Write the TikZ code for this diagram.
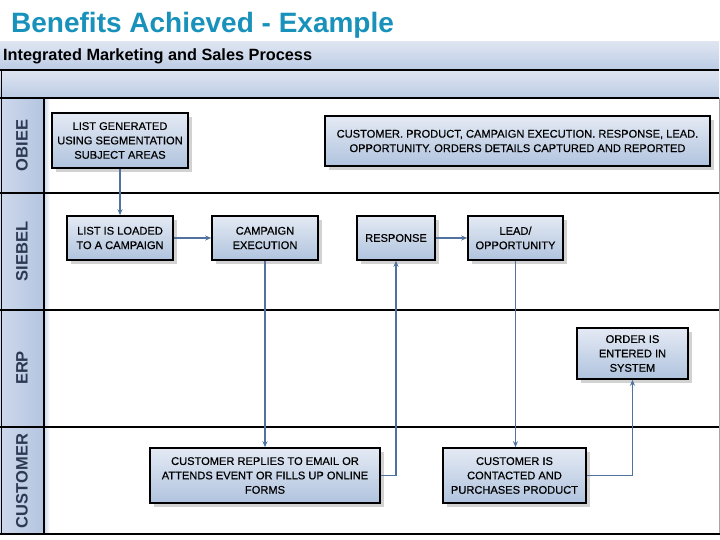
\documentclass[tikz,border=0pt]{standalone}
\usepackage{fontspec}
\setmainfont{Liberation Sans}
\newfontfamily\boxfont[FakeBold=0.5]{Liberation Sans}
\usetikzlibrary{shadows,arrows.meta,positioning}
\definecolor{titleblue}{RGB}{24,146,186}
\definecolor{boxtop}{RGB}{228,234,244}
\definecolor{boxbot}{RGB}{176,195,222}
\definecolor{bandtop}{RGB}{222,229,241}
\definecolor{bandbot}{RGB}{188,204,229}
\definecolor{colleft}{RGB}{205,216,236}
\definecolor{colright}{RGB}{180,197,224}
\definecolor{lanetext}{RGB}{45,56,82}
\definecolor{arrowc}{RGB}{79,114,158}
\tikzset{
  procbox/.style={draw=black, line width=1.6pt, top color=boxtop, bottom color=boxbot,
    align=center, inner sep=1pt,
    font=\boxfont\fontsize{11.1}{14.4}\selectfont,
    drop shadow={shadow xshift=4pt, shadow yshift=-4pt, fill=gray, opacity=0.35}},
  flow/.style={draw=arrowc, line width=1.1pt, -{Stealth[length=6pt,width=5pt]}},
  lanelabel/.style={rotate=90, font=\bfseries\fontsize{16.5}{18}\selectfont, text=lanetext},
  laneline/.style={draw=black, line width=1.6pt}
}
\begin{document}
\begin{tikzpicture}[x=1pt,y=-1pt]
\useasboundingbox (0,0) rectangle (720,540);
\fill[white] (0,0) rectangle (720,540);
% title
\node[anchor=west, text=titleblue, font=\bfseries\fontsize{28}{30}\selectfont, inner sep=0pt] (title) at (11,25) {Benefits Achieved - Example};
% header bands
\shade[top color=bandtop, bottom color=bandbot] (0,42) rectangle (719,70);
\node[anchor=west, font=\bfseries\fontsize{16.3}{18}\selectfont, inner sep=0pt] (head) at (3,56) {Integrated Marketing and Sales Process};
\shade[top color=bandtop, bottom color=bandbot] (0,70) rectangle (719,98);
\draw[laneline] (0,70) -- (719,70);
\draw[line width=1pt] (1,70) -- (1,98);
% lane column
\shade[left color=colleft, right color=colright] (0,98) rectangle (44,534);
\shade[left color=colright!70!white, right color=white] (44,98) rectangle (50,534);
\draw[gray!70, line width=0.6pt] (719,98) -- (719,534);
\draw[line width=0.8pt] (1,98) -- (1,534);
\draw[laneline] (0,98) -- (719,98);
\draw[laneline] (0,193) -- (719,193);
\draw[laneline] (0,310) -- (719,310);
\draw[laneline] (0,427) -- (719,427);
\draw[draw=black, line width=2.2pt] (0,534) -- (720,534);
\draw[laneline] (44,98) -- (44,534);
% lane labels
\node[lanelabel] (lobiee) at (22,145.5) {OBIEE};
\node[lanelabel] (lsiebel) at (22,251.5) {SIEBEL};
\node[lanelabel] (lerp) at (22,368) {ERP};
\node[lanelabel] (lcust) at (22,481) {CUSTOMER};
% boxes
\node[procbox, minimum width=136pt, minimum height=55pt] (gen) at (120,140.5) {LIST GENERATED\\USING SEGMENTATION\\SUBJECT AREAS};
\node[procbox, minimum width=385pt, minimum height=50pt] (cap) at (517.5,141) {CUSTOMER. PRODUCT, CAMPAIGN EXECUTION. RESPONSE, LEAD.\\OPPORTUNITY. ORDERS DETAILS CAPTURED AND REPORTED};
\node[procbox, minimum width=106pt, minimum height=44pt] (load) at (120,238) {LIST IS LOADED\\TO A CAMPAIGN};
\node[procbox, minimum width=106pt, minimum height=44pt] (camp) at (265,238) {CAMPAIGN\\EXECUTION};
\node[procbox, minimum width=78pt, minimum height=44pt] (resp) at (396,238) {RESPONSE};
\node[procbox, minimum width=95pt, minimum height=44pt] (lead) at (515.5,238) {LEAD/\\OPPORTUNITY};
\node[procbox, minimum width=111pt, minimum height=51pt] (order) at (632.5,353.5) {ORDER IS\\ENTERED IN\\SYSTEM};
\node[procbox, minimum width=230pt, minimum height=55pt] (reply) at (265,475.5) {CUSTOMER REPLIES TO EMAIL OR\\ATTENDS EVENT OR FILLS UP ONLINE\\FORMS};
\node[procbox, minimum width=143pt, minimum height=55pt] (contact) at (514.5,475.5) {CUSTOMER IS\\CONTACTED AND\\PURCHASES PRODUCT};
% connectors
\draw[flow] (gen.south) -- (load.north);
\draw[flow] (load.east) -- (camp.west);
\draw[flow] (camp.south) -- (reply.north);
\draw[flow] (reply.east) -| (resp.south);
\draw[flow] (resp.east) -- (lead.west);
\draw[flow] (lead.south) -- (lead.south |- contact.north);
\draw[flow] (contact.east) -| (order.south);
\end{tikzpicture}
\end{document}
